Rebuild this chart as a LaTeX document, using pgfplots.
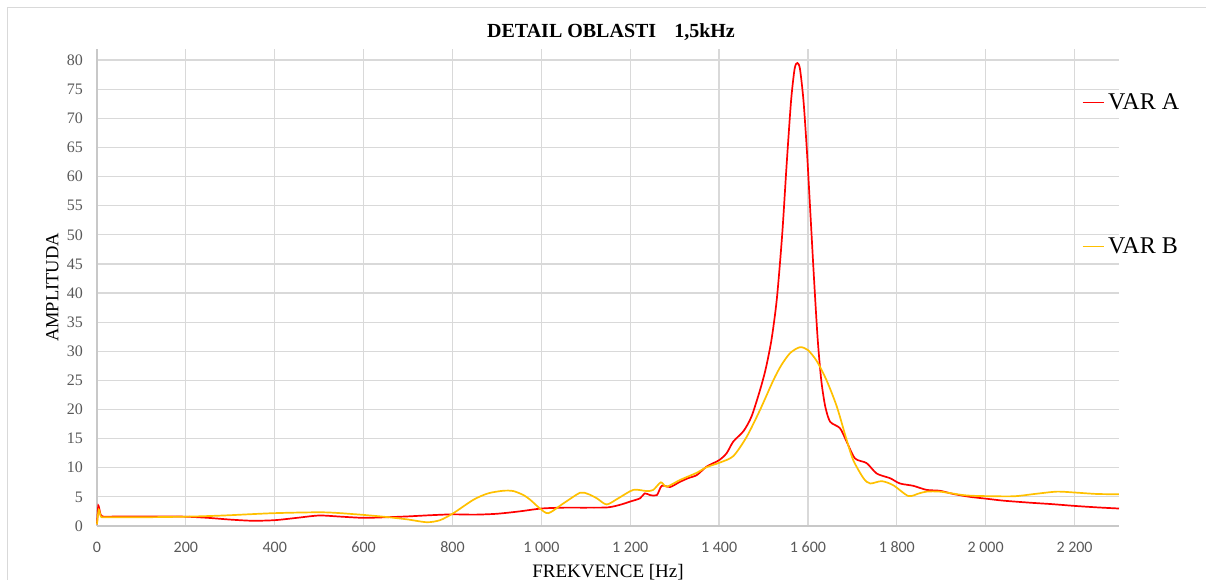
\documentclass[border=0pt]{standalone}
\usepackage{fontspec}
\setmainfont{Liberation Serif}
\newfontfamily\carlito{Carlito}
\usepackage{pgfplots}
\pgfplotsset{compat=1.18}

\definecolor{varA}{HTML}{FF0000}
\definecolor{varB}{HTML}{FFC000}
\definecolor{gridc}{HTML}{D9D9D9}
\definecolor{axisc}{HTML}{C8C8C8}
\definecolor{tickc}{HTML}{595959}

% amplitude spectrum, variant A
\pgfplotstableread{
f A
0 0.3
3 3.5
8 2.0
15 1.6
50 1.65
100 1.65
150 1.65
200 1.6
250 1.4
300 1.1
350 0.9
400 1.0
450 1.4
500 1.8
550 1.6
600 1.4
650 1.5
700 1.65
750 1.85
800 2.0
850 1.95
900 2.1
950 2.5
1000 3.0
1050 3.15
1100 3.15
1150 3.2
1180 3.7
1200 4.2
1222 4.75
1233 5.6
1245 5.3
1260 5.3
1271 6.9
1290 6.7
1310 7.5
1330 8.2
1350 8.75
1372 10.2
1400 11.3
1417 12.5
1432 14.5
1455 16.3
1473 18.8
1492 23.3
1505 27
1518 32
1530 39
1542 50
1552 62
1562 73
1570 78.5
1576 79.5
1582 78.5
1590 73
1598 64
1606 53
1614 42
1622 32
1630 25
1639 20.5
1650 17.9
1672 16.8
1687 14.5
1706 11.6
1732 10.8
1755 9.0
1785 8.2
1807 7.3
1837 6.9
1867 6.2
1897 6.05
1927 5.5
1965 5.0
2000 4.7
2040 4.35
2100 4.0
2150 3.75
2200 3.45
2250 3.2
2300 3.0
}\varA

% amplitude spectrum, variant B
\pgfplotstableread{
f A
0 0.3
4 2.8
9 1.6
20 1.5
100 1.5
200 1.6
284 1.8
397 2.2
509 2.35
584 2.0
644 1.6
697 1.15
742 0.65
772 1.0
802 2.2
847 4.5
880 5.6
914 6.05
937 6.0
960 5.3
975 4.5
997 3.0
1016 2.2
1050 3.9
1087 5.7
1105 5.5
1125 4.75
1147 3.7
1173 4.75
1207 6.2
1237 6.0
1252 6.2
1269 7.5
1282 6.75
1312 7.9
1350 9.15
1372 10.1
1402 10.9
1432 12.0
1462 15.3
1492 19.9
1522 25
1540 27.6
1560 29.7
1582 30.7
1600 30.2
1620 28.3
1642 25
1665 20.5
1687 14.8
1702 11.3
1725 8.2
1740 7.3
1766 7.7
1792 7.0
1826 5.15
1850 5.6
1867 5.9
1897 5.9
1950 5.3
1987 5.15
2062 5.1
2110 5.5
2160 5.9
2200 5.75
2250 5.5
2300 5.45
}\varB

\begin{document}
\begin{tikzpicture}[x=1pt,y=1pt]
\useasboundingbox (0,0) rectangle (1206,580);
% chart frame
\draw[gridc, line width=1pt] (7.5,-10) rectangle (1220,572);
\begin{axis}[
  at={(97pt,54pt)}, anchor=south west,
  scale only axis, width=1022pt, height=477pt,
  xmin=0, xmax=2300, ymin=0, ymax=81.9,
  xtick={0,200,...,2200},
  xticklabels={0,200,400,600,800,1 000,1 200,1 400,1 600,1 800,2 000,2 200},
  ytick={0,5,...,80},
  /pgf/number format/assume math mode=true,
  grid=major,
  major grid style={gridc, line width=1.2pt},
  axis lines=left,
  axis line style={-, axisc, line width=1.2pt},
  major tick length=0pt,
  clip=false,
  yticklabel style={font=\fontsize{16}{16}\selectfont, text=tickc, inner sep=0pt, anchor=east, xshift=-14pt},
  xticklabel style={font=\carlito\fontsize{16}{16}\selectfont, text=tickc, inner sep=0pt, anchor=base, yshift=-27pt},
  title={\textbf{DETAIL OBLASTI\hspace*{0.9em}1,5kHz}},
  title style={font=\fontsize{20}{20}\selectfont, at={(axis description cs:0.5,1)}, anchor=base, yshift=5pt, xshift=3pt, inner sep=0pt},
  xlabel={FREKVENCE [Hz]},
  xlabel style={font=\fontsize{19}{20}\selectfont, at={(axis description cs:0.5,0)}, anchor=base, yshift=-52pt, inner sep=0pt},
  ylabel={AMPLITUDA},
  ylabel style={font=\fontsize{18.5}{20}\selectfont, at={(axis description cs:-0.0379,0.5)}, anchor=base, inner sep=0pt},
  legend style={at={(axis description cs:0.9635,0.907)}, anchor=north west,
    draw=none, fill=none, inner sep=0pt, row sep=127pt, column sep=3.4pt,
    font=\fontsize{24}{24}\selectfont, nodes={inner sep=0pt}},
  legend cell align=left,
  legend image code/.code={\draw[#1, line width=1.3pt] (0pt,0pt) -- (21.6pt,0pt);},
]
\addplot[varA, line width=1.7pt, smooth, tension=0.45] table[x=f, y=A] {\varA};
\addlegendentry{VAR A}
\addplot[varB, line width=1.7pt, smooth, tension=0.45] table[x=f, y=A] {\varB};
\addlegendentry{VAR B}
\end{axis}
\end{tikzpicture}
\end{document}
